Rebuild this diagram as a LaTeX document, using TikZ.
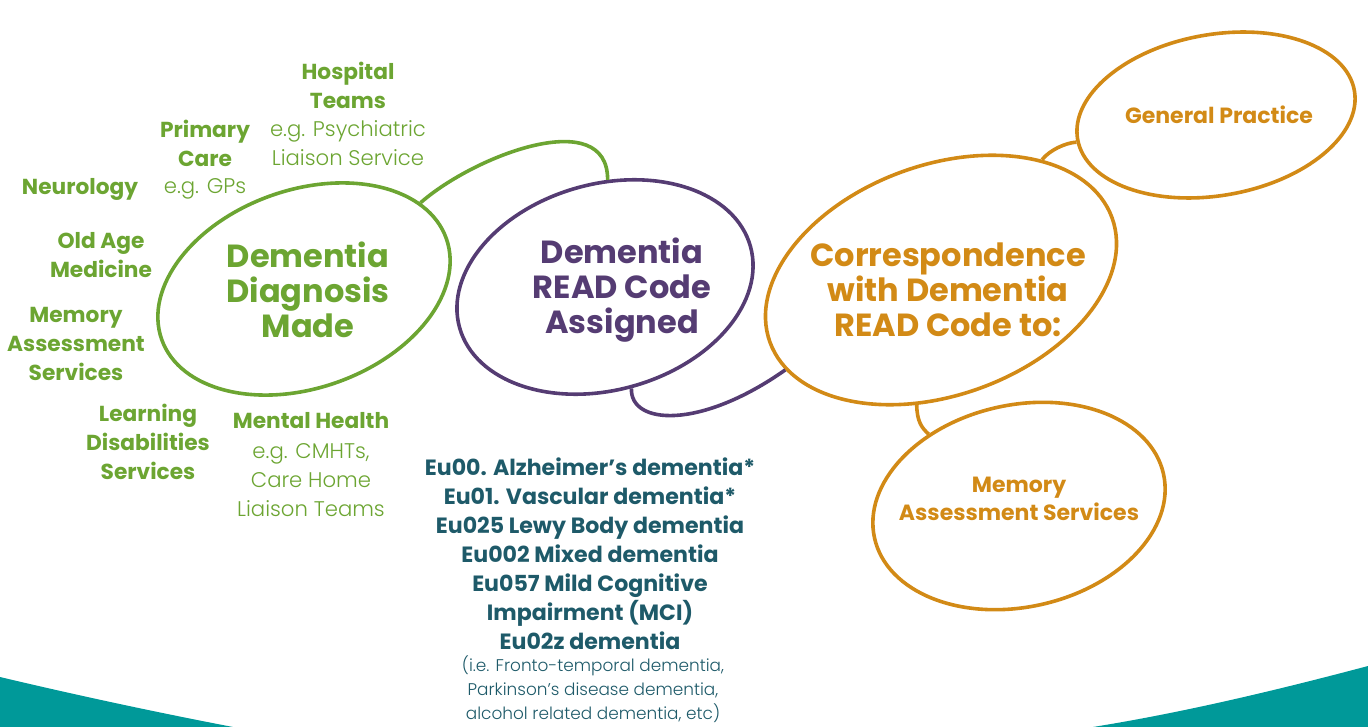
\documentclass[tikz,border=0pt]{standalone}
\usepackage{fontspec}
\setmainfont{Poppins}
\newfontfamily\lightf{Poppins Light}
\usetikzlibrary{shapes.geometric}
\definecolor{dgreen}{HTML}{6CA532}
\definecolor{dpurple}{HTML}{553C73}
\definecolor{dorange}{HTML}{D28A16}
\definecolor{dteal}{HTML}{1E5A69}
\definecolor{band}{HTML}{009999}
\begin{document}
\begin{tikzpicture}[x=1pt,y=-1pt,
  bub/.style={draw, ellipse, line width=3.6pt, inner sep=0pt},
  link/.style={line width=3.6pt},
  gl/.style={text=dgreen, align=center, inner sep=0pt, font=\fontsize{21.7}{29}\selectfont\bfseries},
  glt/.style={text=dgreen, align=center, inner sep=0pt, font=\fontsize{21.2}{29}\selectfont\lightf},
  bigt/.style={align=center, inner sep=0pt, font=\fontsize{32}{35}\selectfont\bfseries},
  ort/.style={text=dorange, align=center, inner sep=0pt, font=\fontsize{22}{28}\selectfont\bfseries}]
\useasboundingbox (0,0) rectangle (1368,727);
% teal band corners
\fill[band] (0,677) .. controls (80,696) and (160,713) .. (233,727) -- (0,727) -- cycle;
\fill[band] (1368,666) .. controls (1270,692) and (1180,713) .. (1093,727) -- (1368,727) -- cycle;
% ellipses
\node[bub, draw=dgreen, minimum width=302pt, minimum height=198pt, rotate=19.5] (dx) at (304,289) {};
\node[bub, draw=dpurple, minimum width=302pt, minimum height=206pt, rotate=15.6] (rc) at (605,287) {};
\node[bub, draw=dorange, minimum width=364pt, minimum height=230pt, rotate=20] (cor) at (941,280) {};
\node[bub, draw=dorange, minimum width=281pt, minimum height=161pt, rotate=10] (gp) at (1216,115) {};
\node[bub, draw=dorange, minimum width=296pt, minimum height=202pt, rotate=12.5] (mas) at (1019,506) {};
% connectors
\draw[link, dgreen] (dx.17) .. controls (475,155) and (608,105) .. (rc.73);
\draw[link, dpurple] (rc.269) .. controls (630,425) and (700,430) .. (cor.190);
\draw[link, dorange] (cor.30) .. controls (1050,150) and (1065,143) .. (gp.181);
\draw[link, dorange] (cor.239) .. controls (917,422) and (922,428) .. (mas.129);
% big texts
\node[bigt, text=dgreen] (tdx) at (308,290) {Dementia\\Diagnosis\\Made};
\node[bigt, text=dpurple] (trc) at (622,290) {Dementia\\READ Code\\Assigned};
\node[bigt, text=dorange] (tcor) at (948,290) {Correspondence\\with Dementia\\READ Code to:};
\node[ort] (tgp) at (1219,115) {General Practice};
\node[ort] (tmas) at (1019,499) {Memory\\Assessment Services};
% green labels
\node[gl] (hosp) at (348,85) {Hospital\\Teams};
\node[gl] (prim) at (205,143) {Primary\\Care};
\node[glt] (psy) at (348,143) {e.g. Psychiatric\\Liaison Service};
\node[gl] (neur) at (80,189) {Neurology};
\node[glt] (gps) at (205,189) {e.g. GPs};
\node[gl] (oam) at (101,255.5) {Old Age\\Medicine};
\node[gl] (mem) at (76,344) {Memory\\Assessment\\Services};
\node[gl] (ld) at (148,442) {Learning\\Disabilities\\Services};
\node[gl] (mh) at (311,421) {Mental Health};
\node[glt] (mhe) at (311,480) {e.g. CMHTs,\\Care Home\\Liaison Teams};
% code list
\node[text=dteal, align=center, inner sep=0pt, font=\fontsize{22.1}{29}\selectfont\bfseries] (codes) at (590,554)
  {Eu00. Alzheimer’s dementia*\\Eu01. Vascular dementia*\\Eu025 Lewy Body dementia\\Eu002 Mixed dementia\\Eu057 Mild Cognitive\\Impairment (MCI)\\Eu02z dementia};
\node[text=dteal, align=center, inner sep=0pt, font=\fontsize{16.9}{24}\selectfont\lightf] (notes) at (593,689)
  {(i.e. Fronto-temporal dementia,\\Parkinson’s disease dementia,\\alcohol related dementia, etc)};
\end{tikzpicture}
\end{document}
